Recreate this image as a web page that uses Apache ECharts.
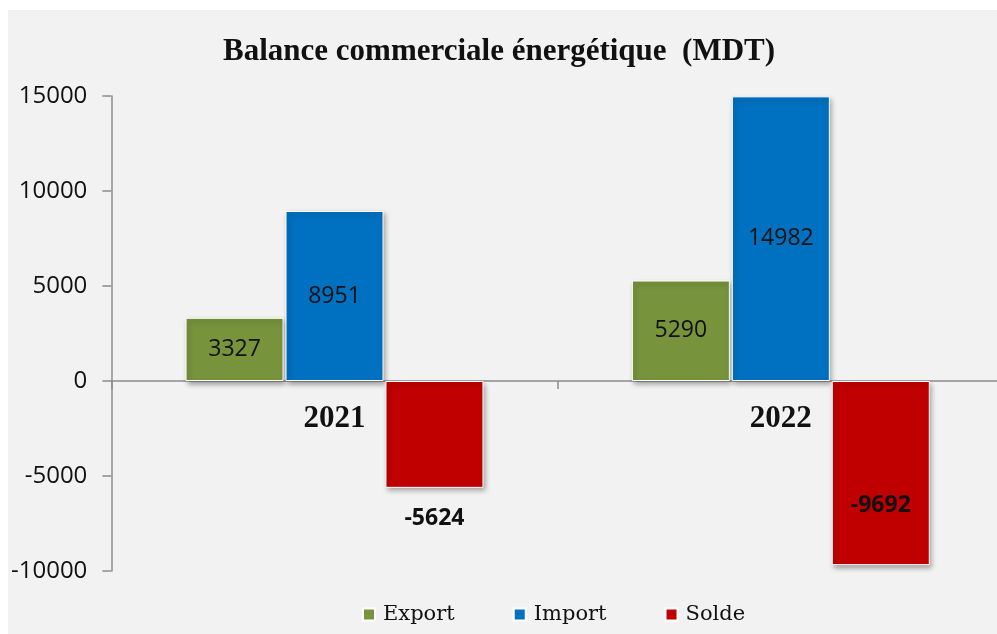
<!DOCTYPE html>
<html>
<head>
<meta charset="utf-8">
<script src="https://cdn.jsdelivr.net/npm/echarts@6/dist/echarts.min.js"></script>
<style>
html,body{margin:0;padding:0;background:#ffffff;width:997px;height:634px;overflow:hidden;position:relative;}
#chart{position:absolute;left:8px;top:10px;width:996px;height:624px;background:#f2f2f2;}
</style>
</head>
<body>
<div id="chart"></div>
<script>
var categories = ['2021', '2022'];
var seriesNames = ['Export', 'Import', 'Solde'];
var exportValues = [3327, 5290];
var importValues = [8951, 14982];
var soldeValues = [-5624, -9692];
var yTicks = [-10000, -5000, 0, 5000, 10000, 15000];

var colors = ['#77933c', '#0070c0', '#c00000'];
var chart = echarts.init(document.getElementById('chart'));

var labelFont = {fontFamily: 'Open Sans', fontSize: 23, color: '#111'};
var barStyle = function (c) {
  return {color: c, borderColor: '#ffffff', borderWidth: 1,
    shadowColor: 'rgba(0,0,0,0.35)', shadowBlur: 5, shadowOffsetX: 2, shadowOffsetY: 3};
};

var soldeData = soldeValues.map(function (v, i) {
  if (i === 0) {
    return {value: v, label: {show: true, position: 'bottom', distance: 19, fontWeight: 'bold',
      fontFamily: 'Open Sans', fontSize: 23, color: '#111'}};
  }
  return {value: v, label: {show: true, position: 'inside', offset: [0, 32], fontWeight: 'bold',
    fontFamily: 'Open Sans', fontSize: 23, color: '#111'}};
});

var option = {
  backgroundColor: '#f2f2f2',
  animation: false,
  title: {
    text: 'Balance commerciale énergétique  (MDT)',
    left: 210,
    top: 21,
    textStyle: {fontFamily: 'Liberation Serif', fontWeight: 'bold', fontSize: 31, color: '#111'}
  },
  legend: {
    data: seriesNames,
    left: 349,
    top: 589,
    itemWidth: 12,
    itemHeight: 12,
    itemGap: 58,
    icon: 'rect',
    textStyle: {fontFamily: 'DejaVu Serif', fontSize: 21, color: '#111', padding: [0, 0, 0, 3]}
  },
  grid: {left: 102, right: 0, top: 86, bottom: 63, containLabel: false},
  xAxis: {
    type: 'category',
    data: categories,
    offset: -190,
    axisLine: {onZero: false, lineStyle: {color: '#8c8c8c', width: 1.5}},
    axisTick: {show: true, length: 8, lineStyle: {color: '#8c8c8c', width: 1.5}},
    axisLabel: {margin: 22, fontFamily: 'Liberation Serif', fontWeight: 'bold', fontSize: 31, color: '#111'},
    splitLine: {show: false}
  },
  yAxis: {
    type: 'value',
    min: yTicks[0],
    max: yTicks[yTicks.length - 1],
    interval: 5000,
    axisLine: {show: true, lineStyle: {color: '#8c8c8c', width: 1.5}},
    axisTick: {show: true, length: 9, lineStyle: {color: '#8c8c8c', width: 1.5}},
    axisLabel: {margin: 24, fontFamily: 'Open Sans', fontSize: 24, color: '#111',
      formatter: function (v) { return String(v); }},
    splitLine: {show: false}
  },
  series: [
    {name: seriesNames[0], type: 'bar', data: exportValues, barWidth: 98, barGap: '2%',
      itemStyle: barStyle(colors[0]),
      label: Object.assign({show: true, position: 'inside'}, labelFont)},
    {name: seriesNames[1], type: 'bar', data: importValues, barWidth: 98, barGap: '2%',
      itemStyle: barStyle(colors[1]),
      label: Object.assign({show: true, position: 'inside'}, labelFont)},
    {name: seriesNames[2], type: 'bar', data: soldeData, barWidth: 98, barGap: '2%',
      itemStyle: barStyle(colors[2])}
  ]
};
chart.setOption(option);
</script>
</body>
</html>
